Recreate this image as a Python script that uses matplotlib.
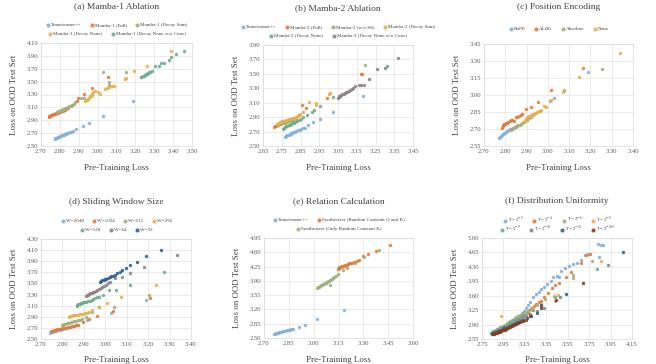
import matplotlib
matplotlib.use("Agg")
import matplotlib.pyplot as plt
import matplotlib.ticker as mticker
import numpy as np

plt.rcParams["font.family"] = ["Liberation Serif", "DejaVu Serif"]
plt.rcParams["mathtext.fontset"] = "stix"

FIG_SIZE = (6.56, 3.64)
FIG_DPI = 100

# colours, office-like palette
BLUE = "#86B0DA"
ORANGE = "#E47B3A"
OLIVE = "#A2AF7E"
GOLD = "#E6B04A"
TEAL = "#6EAB8F"
GRAY = "#8E8484"
NAVY = "#2F5F94"
BROWN = "#8B3A17"

# ---- (a) Mamba-1 Ablation ----
a_transformer = [(2.772, 2.612), (2.776, 2.618), (2.780, 2.624), (2.784, 2.630), (2.788, 2.636),
                 (2.792, 2.641), (2.796, 2.646), (2.800, 2.652), (2.805, 2.658), (2.810, 2.664),
                 (2.815, 2.670), (2.820, 2.676), (2.826, 2.683), (2.832, 2.690), (2.838, 2.697),
                 (2.845, 2.704), (2.852, 2.711), (2.861, 2.720), (2.872, 2.735), (2.888, 2.763),
                 (2.920, 2.810), (2.954, 2.854), (3.028, 2.966), (3.187, 3.197)]
a_full = [(2.741, 2.950), (2.745, 2.960), (2.750, 2.970), (2.755, 2.978), (2.760, 2.985),
          (2.765, 2.992), (2.770, 2.998), (2.776, 3.004), (2.782, 3.010), (2.788, 3.016),
          (2.795, 3.022), (2.802, 3.030), (2.810, 3.040), (2.818, 3.050), (2.826, 3.060),
          (2.835, 3.075), (2.843, 3.095), (2.865, 3.138), (2.892, 3.197), (2.894, 3.251),
          (2.926, 3.304), (2.972, 3.400), (3.053, 3.572)]
a_decay_sum = [(2.786, 3.030), (2.792, 3.040), (2.798, 3.048), (2.804, 3.056), (2.810, 3.064),
               (2.816, 3.072), (2.822, 3.080), (2.828, 3.088), (2.835, 3.097), (2.842, 3.106),
               (2.850, 3.116), (2.858, 3.128), (2.866, 3.142), (2.874, 3.160), (2.882, 3.176),
               (2.912, 3.245), (2.930, 3.250), (3.028, 3.653), (3.058, 3.500), (3.062, 3.444),
               (3.150, 3.647)]
a_decay_none = [(2.933, 3.197), (2.942, 3.213), (2.951, 3.229), (2.956, 3.250), (2.960, 3.272),
                (2.965, 3.282), (2.969, 3.293), (2.972, 3.309), (2.978, 3.336), (2.987, 3.352),
                (3.000, 3.336), (3.010, 3.315), (3.040, 3.390), (3.049, 3.395), (3.062, 3.420),
                (3.076, 3.433), (3.087, 3.430), (3.144, 3.535), (3.152, 3.550), (3.193, 3.658),
                (3.261, 3.739), (3.388, 3.977)]
a_none_noconv = [(3.228, 3.565), (3.232, 3.572), (3.238, 3.582), (3.244, 3.594), (3.250, 3.606),
                 (3.256, 3.616), (3.262, 3.626), (3.268, 3.636), (3.274, 3.646), (3.280, 3.656),
                 (3.288, 3.668), (3.305, 3.737), (3.326, 3.737), (3.337, 3.796), (3.350, 3.796),
                 (3.376, 3.840), (3.390, 3.880), (3.417, 3.924), (3.455, 3.977)]

# ---- (b) Mamba-2 Ablation ----
b_transformer = [(2.766, 2.626), (2.770, 2.632), (2.775, 2.640), (2.780, 2.648), (2.786, 2.656),
                 (2.792, 2.664), (2.798, 2.672), (2.805, 2.680), (2.812, 2.688), (2.820, 2.697),
                 (2.828, 2.706), (2.836, 2.716), (2.845, 2.726), (2.855, 2.736), (2.864, 2.744),
                 (2.873, 2.751), (2.888, 2.788), (2.918, 2.826), (2.954, 2.872), (3.025, 2.974),
                 (3.182, 3.198)]
b_full = [(2.709, 2.762), (2.714, 2.772), (2.720, 2.782), (2.726, 2.790), (2.732, 2.798),
          (2.738, 2.805), (2.745, 2.812), (2.752, 2.820), (2.760, 2.828), (2.768, 2.836),
          (2.776, 2.845), (2.785, 2.855), (2.795, 2.866), (2.805, 2.878), (2.815, 2.890),
          (2.827, 2.905), (2.840, 2.930), (2.860, 3.070), (2.877, 3.020), (2.989, 3.160),
          (3.171, 3.500), (3.180, 3.500)]
b_no_ss = [(2.730, 2.792), (2.738, 2.800), (2.746, 2.808), (2.755, 2.815), (2.765, 2.824),
           (2.776, 2.834), (2.788, 2.844), (2.800, 2.855), (2.812, 2.866), (2.825, 2.878),
           (3.195, 3.616)]
b_decay_sum = [(2.722, 2.800), (2.728, 2.810), (2.734, 2.818), (2.740, 2.826), (2.746, 2.833),
               (2.752, 2.840), (2.758, 2.846), (2.765, 2.852), (2.772, 2.858), (2.780, 2.864),
               (2.788, 2.870), (2.796, 2.877), (2.805, 2.885), (2.814, 2.894), (2.824, 2.904),
               (2.835, 2.920), (2.848, 2.950), (2.864, 2.975), (2.896, 3.114), (2.930, 3.100),
               (2.932, 3.070), (3.003, 3.225), (3.010, 3.232)]
b_decay_none = [(2.757, 2.742), (2.762, 2.752), (2.768, 2.762), (2.774, 2.772), (2.780, 2.780),
                (2.786, 2.788), (2.792, 2.796), (2.799, 2.804), (2.806, 2.812), (2.813, 2.820),
                (2.821, 2.830), (2.830, 2.842), (2.840, 2.858), (2.850, 2.875), (2.864, 2.905),
                (2.882, 2.930), (2.909, 2.974), (2.920, 3.000), (2.954, 3.053), (3.025, 3.184),
                (3.311, 3.611)]
b_none_noconv = [(3.050, 3.170), (3.054, 3.180), (3.058, 3.190), (3.063, 3.198), (3.068, 3.206),
                 (3.074, 3.214), (3.080, 3.222), (3.086, 3.232), (3.092, 3.242), (3.100, 3.252),
                 (3.108, 3.262), (3.116, 3.274), (3.124, 3.290), (3.132, 3.305), (3.141, 3.333),
                 (3.160, 3.340), (3.175, 3.345), (3.186, 3.347), (3.216, 3.430), (3.257, 3.565),
                 (3.302, 3.588), (3.368, 3.719)]

# ---- (c) Position Encoding ----
c_rope = [(2.770, 2.622), (2.774, 2.630), (2.778, 2.638), (2.783, 2.646), (2.788, 2.654),
          (2.793, 2.662), (2.798, 2.669), (2.804, 2.676), (2.810, 2.683), (2.816, 2.690),
          (2.822, 2.697), (2.829, 2.704), (2.836, 2.712), (2.844, 2.720), (2.852, 2.728),
          (3.027, 2.970), (3.187, 3.200)]
c_alibi = [(2.784, 2.712), (2.788, 2.724), (2.791, 2.734), (2.795, 2.742), (2.800, 2.748),
           (2.805, 2.753), (2.810, 2.756), (2.815, 2.762), (2.820, 2.768), (2.826, 2.780),
           (2.832, 2.778), (2.840, 2.775), (2.848, 2.807), (2.856, 2.804), (2.864, 2.815),
           (2.872, 2.822), (2.880, 2.830), (2.895, 2.875), (2.919, 2.890), (2.953, 2.940),
           (3.013, 3.044), (3.164, 3.236)]
c_absolute = [(2.828, 2.690), (2.833, 2.698), (2.838, 2.706), (2.843, 2.713), (2.849, 2.720),
              (2.855, 2.726), (2.861, 2.732), (2.867, 2.738), (2.873, 2.745), (2.879, 2.752),
              (2.886, 2.760), (2.893, 2.770), (2.900, 2.780), (2.910, 2.795), (2.920, 2.810),
              (2.930, 2.825), (2.945, 2.845), (2.961, 2.861), (3.008, 2.950), (3.078, 3.044),
              (3.253, 3.233)]
c_none = [(2.888, 2.762), (2.892, 2.775), (2.896, 2.788), (2.900, 2.798), (2.904, 2.806),
          (2.910, 2.812), (2.916, 2.818), (2.922, 2.824), (2.928, 2.830), (2.935, 2.836),
          (2.942, 2.842), (2.950, 2.850), (2.958, 2.860), (2.966, 2.872), (2.981, 2.902),
          (2.993, 2.890), (3.016, 2.955), (3.070, 3.029), (3.145, 3.157), (3.341, 3.370)]

# ---- (d) Sliding Window Size ----
d_w2048 = [(2.740, 2.615), (2.748, 2.624), (2.756, 2.633), (2.764, 2.641), (2.772, 2.649),
           (2.780, 2.657), (2.788, 2.665), (2.796, 2.673), (2.805, 2.682), (2.814, 2.691),
           (2.823, 2.700), (2.832, 2.710), (2.842, 2.720), (2.852, 2.732), (2.862, 2.745),
           (2.874, 2.760), (2.916, 2.837), (3.027, 2.970), (3.188, 3.200)]
d_w1024 = [(2.745, 2.640), (2.752, 2.650), (2.760, 2.658), (2.768, 2.666), (2.776, 2.673),
           (2.784, 2.680), (2.792, 2.687), (2.800, 2.694), (2.808, 2.700), (2.816, 2.706),
           (2.825, 2.713), (2.834, 2.720), (2.843, 2.728), (2.852, 2.736), (2.862, 2.744),
           (2.872, 2.752), (2.898, 2.800), (2.925, 2.855), (2.963, 2.915), (3.037, 3.000),
           (3.208, 3.241)]
d_w512 = [(2.797, 2.745), (2.802, 2.758), (2.808, 2.768), (2.814, 2.776), (2.820, 2.783),
          (2.826, 2.790), (2.833, 2.797), (2.840, 2.804), (2.847, 2.811), (2.855, 2.818),
          (2.863, 2.826), (2.871, 2.836), (2.880, 2.848), (2.890, 2.860), (2.908, 2.900),
          (2.938, 2.985), (2.971, 3.078), (3.041, 3.070), (3.202, 3.300)]
d_w256 = [(2.830, 2.905), (2.836, 2.915), (2.842, 2.920), (2.849, 2.925), (2.856, 2.930),
          (2.864, 2.935), (2.872, 2.940), (2.880, 2.946), (2.888, 2.952), (2.897, 2.958),
          (2.906, 2.965), (2.916, 2.975), (2.926, 2.990), (2.940, 3.024), (2.971, 3.085),
          (3.006, 3.150), (3.075, 3.259), (3.237, 3.464)]
d_w128 = [(2.866, 3.100), (2.870, 3.112), (2.875, 3.124), (2.880, 3.134), (2.886, 3.142),
          (2.892, 3.150), (2.898, 3.158), (2.905, 3.166), (2.912, 3.174), (2.920, 3.183),
          (2.928, 3.193), (2.936, 3.204), (2.944, 3.216), (2.952, 3.230), (2.962, 3.250),
          (2.972, 3.262), (2.990, 3.300), (3.019, 3.390), (3.050, 3.390), (3.117, 3.470),
          (3.274, 3.700)]
d_w64 = [(2.910, 3.270), (2.914, 3.285), (2.919, 3.298), (2.924, 3.310), (2.930, 3.320),
         (2.936, 3.330), (2.942, 3.340), (2.948, 3.350), (2.955, 3.362), (2.962, 3.376),
         (2.970, 3.392), (2.978, 3.410), (2.986, 3.428), (2.995, 3.446), (3.005, 3.470),
         (3.015, 3.500), (3.022, 3.520), (3.045, 3.590), (3.076, 3.615), (3.115, 3.680),
         (3.182, 3.790), (3.333, 4.015)]
d_w32 = [(2.975, 3.520), (2.980, 3.540), (2.986, 3.556), (2.992, 3.568), (2.998, 3.578),
         (3.005, 3.586), (3.012, 3.598), (3.020, 3.612), (3.028, 3.628), (3.036, 3.640),
         (3.046, 3.660), (3.056, 3.680), (3.068, 3.710), (3.080, 3.735), (3.097, 3.770),
         (3.115, 3.830), (3.146, 3.890), (3.188, 4.000), (3.261, 4.100)]

# ---- (e) Relation Calculation ----
e_transformer = [(2.762, 2.598), (2.768, 2.606), (2.774, 2.614), (2.780, 2.622), (2.786, 2.630),
                 (2.792, 2.638), (2.798, 2.646), (2.805, 2.654), (2.812, 2.662), (2.820, 2.670),
                 (2.828, 2.678), (2.836, 2.686), (2.845, 2.694), (2.855, 2.703), (2.866, 2.714),
                 (2.878, 2.730), (2.914, 2.780), (2.948, 2.830), (3.019, 2.955), (3.183, 3.185)]
e_rand_qk = [(3.148, 4.200), (3.152, 4.215), (3.156, 4.228), (3.160, 4.238), (3.165, 4.248),
             (3.170, 4.256), (3.176, 4.264), (3.182, 4.272), (3.188, 4.280), (3.194, 4.288),
             (3.200, 4.296), (3.207, 4.310), (3.214, 4.330), (3.222, 4.340), (3.232, 4.345),
             (3.242, 4.352), (3.252, 4.370), (3.262, 4.395), (3.276, 4.410), (3.296, 4.510),
             (3.330, 4.560), (3.378, 4.630), (3.463, 4.775)]
e_rand_k = [(3.020, 3.730), (3.026, 3.745), (3.032, 3.760), (3.038, 3.774), (3.044, 3.788),
            (3.050, 3.802), (3.056, 3.816), (3.062, 3.830), (3.068, 3.844), (3.074, 3.858),
            (3.080, 3.872), (3.087, 3.888), (3.094, 3.904), (3.101, 3.920), (3.108, 3.940),
            (3.116, 3.962), (3.124, 3.990), (3.132, 4.030), (3.149, 4.080), (3.176, 4.160),
            (3.204, 4.220), (3.251, 4.330), (3.302, 4.480), (3.392, 4.650), (3.100, 3.800)]

# ---- (f) Distribution Uniformity ----
f_t1 = [(2.870, 2.720), (2.880, 2.735), (2.892, 2.752), (2.905, 2.770), (2.918, 2.790),
        (2.932, 2.812), (2.946, 2.836), (2.960, 2.860), (2.975, 2.886), (2.990, 2.912),
        (3.005, 2.940), (3.020, 2.968), (3.036, 2.998), (3.052, 3.030), (3.068, 3.062),
        (3.085, 3.096), (3.102, 3.132), (3.120, 3.170), (3.140, 3.230), (3.160, 3.300),
        (3.180, 3.380), (3.200, 3.450), (3.226, 3.560), (3.250, 3.640), (3.280, 3.700),
        (3.304, 3.770), (3.330, 3.820), (3.360, 3.880), (3.390, 3.960), (3.413, 4.050),
        (3.450, 4.070), (3.470, 4.060), (3.484, 4.200), (3.521, 4.280), (3.560, 4.320),
        (3.600, 4.370), (3.640, 4.400), (3.677, 4.460), (3.708, 4.580), (3.740, 4.610),
        (3.839, 4.530), (3.832, 4.860), (3.864, 4.840), (3.880, 4.820)]
f_t2 = [(2.900, 2.720), (2.915, 2.745), (2.930, 2.770), (2.946, 2.796), (2.962, 2.824),
        (2.978, 2.852), (2.995, 2.882), (3.012, 2.914), (3.030, 2.946), (3.048, 2.980),
        (3.066, 3.014), (3.085, 3.050), (3.105, 3.088), (3.125, 3.126), (3.146, 3.166),
        (3.168, 3.208), (3.190, 3.252), (3.212, 3.296), (3.235, 3.345), (3.258, 3.400),
        (3.280, 3.450), (3.300, 3.480), (3.330, 3.560), (3.366, 3.670), (3.400, 3.780),
        (3.430, 3.850), (3.470, 3.920), (3.537, 4.060), (3.584, 4.180), (3.670, 4.400),
        (3.725, 4.590), (3.755, 4.600)]
f_t3 = [(2.830, 2.700), (2.840, 2.715), (2.852, 2.732), (2.865, 2.750), (2.878, 2.768),
        (2.892, 2.788), (2.906, 2.808), (2.920, 2.830), (2.935, 2.852), (2.950, 2.876),
        (2.966, 2.900), (2.982, 2.926), (2.999, 2.952), (3.016, 2.980), (3.034, 3.010),
        (3.052, 3.040), (3.071, 3.072), (3.090, 3.104), (3.110, 3.138), (3.130, 3.172),
        (3.152, 3.210), (3.180, 3.240), (3.210, 3.300), (3.260, 3.380), (3.335, 3.510),
        (3.428, 3.470), (3.600, 4.040), (3.600, 4.110), (3.775, 4.430)]
f_t4 = [(2.830, 2.690), (2.842, 2.705), (2.855, 2.722), (2.868, 2.738), (2.882, 2.756),
        (2.896, 2.774), (2.911, 2.794), (2.926, 2.814), (2.942, 2.836), (2.958, 2.858),
        (2.975, 2.882), (2.992, 2.906), (3.010, 2.932), (3.028, 2.958), (3.047, 2.986),
        (3.066, 3.014), (3.086, 3.044), (3.106, 3.074), (3.128, 3.108), (3.150, 3.140),
        (3.180, 3.200), (3.220, 3.260), (2.925, 3.100), (3.300, 3.400), (3.420, 3.590),
        (3.456, 3.610), (3.860, 4.430)]
f_t5 = [(2.835, 2.700), (2.848, 2.716), (2.861, 2.732), (2.875, 2.750), (2.889, 2.768),
        (2.904, 2.788), (2.919, 2.808), (2.935, 2.830), (2.951, 2.852), (2.968, 2.876),
        (2.985, 2.900), (3.003, 2.926), (3.021, 2.952), (3.040, 2.980), (3.060, 3.010),
        (3.080, 3.040), (3.101, 3.072), (3.123, 3.106), (3.146, 3.142), (3.180, 3.190),
        (3.230, 3.260), (3.300, 3.350), (3.430, 3.570), (3.828, 4.247)]
f_t6 = [(2.840, 2.690), (2.853, 2.704), (2.866, 2.720), (2.880, 2.736), (2.894, 2.753),
        (2.909, 2.772), (2.924, 2.790), (2.940, 2.810), (2.956, 2.831), (2.973, 2.852),
        (2.990, 2.874), (3.008, 2.898), (3.026, 2.922), (3.045, 2.948), (3.065, 2.975),
        (3.085, 3.002), (3.106, 3.032), (3.128, 3.064), (3.160, 3.110), (3.200, 3.160),
        (3.260, 3.230), (3.330, 3.310), (3.480, 3.570), (3.930, 4.340)]
f_t7 = [(2.845, 2.680), (2.857, 2.692), (2.870, 2.706), (2.884, 2.720), (2.898, 2.735),
        (2.913, 2.751), (2.928, 2.768), (2.944, 2.786), (2.960, 2.805), (2.977, 2.824),
        (2.994, 2.844), (3.012, 2.865), (3.030, 2.887), (3.049, 2.910), (3.069, 2.934),
        (3.090, 2.960), (3.112, 2.988), (3.135, 3.018), (3.170, 3.060), (3.210, 3.110),
        (3.260, 3.190), (3.300, 3.380), (3.530, 3.640), (4.070, 4.650)]
f_t8 = [(2.850, 2.670), (2.862, 2.680), (2.875, 2.692), (2.888, 2.704), (2.902, 2.717),
        (2.916, 2.731), (2.931, 2.746), (2.946, 2.762), (2.962, 2.779), (2.978, 2.797),
        (2.995, 2.816), (3.012, 2.836), (3.030, 2.857), (3.048, 2.879), (3.067, 2.902),
        (3.087, 2.926), (3.108, 2.952), (3.130, 2.980), (3.160, 3.020), (3.200, 3.100),
        (3.300, 3.300), (3.440, 3.490), (3.690, 3.910)]

F_LABELS = [r"T= $2^{-2}$", r"T= $2^{-4}$", r"T= $2^{-6}$", r"T= $2^{-8}$",
            r"T= $2^{-9}$", r"T= $2^{-10}$", r"T= $2^{-12}$", r"T= $2^{-100}$"]

# panel specs: title, series, legend rows, x ticks, y ticks, axes rect (px)
PANELS = [
    ("(a) Mamba-1 Ablation",
     [(a_transformer, "Transformer++", BLUE), (a_full, "Mamba-1 (Full)", ORANGE),
      (a_decay_sum, "Mamba-1 (Decay Sum)", OLIVE), (a_decay_none, "Mamba-1 (Decay None)", GOLD),
      (a_none_noconv, "Mamba-1 (Decay None w/o Conv)", TEAL)],
     [3, 2], (2.70, 3.50, 0.10), (2.50, 4.10, 0.20), (41, 43, 192, 146)),
    ("(b) Mamba-2 Ablation",
     [(b_transformer, "Transformer++", BLUE), (b_full, "Mamba-2 (Full)", ORANGE),
      (b_no_ss, "Mamba-2 (w/o SS)", OLIVE), (b_decay_sum, "Mamba-2 (Decay Sum)", GOLD),
      (b_decay_none, "Mamba-2 (Decay None)", TEAL),
      (b_none_noconv, "Mamba-2 (Decay None w/o Conv)", GRAY)],
     [4, 2], (2.65, 3.45, 0.10), (2.50, 3.90, 0.20), (263, 45, 413, 146)),
    ("(c) Position Encoding",
     [(c_rope, "RoPE", BLUE), (c_alibi, "ALiBi", ORANGE),
      (c_absolute, "Absolute", OLIVE), (c_none, "None", GOLD)],
     [4], (2.70, 3.40, 0.10), (2.55, 3.45, 0.15), (484, 44, 633, 146)),
    ("(d) Sliding Window Size",
     [(d_w2048, "W=2048", BLUE), (d_w1024, "W=1024", ORANGE), (d_w512, "W=512", OLIVE),
      (d_w256, "W=256", GOLD), (d_w128, "W=128", TEAL), (d_w64, "W=64", GRAY),
      (d_w32, "W=32", NAVY)],
     [4, 3], (2.70, 3.40, 0.10), (2.50, 4.30, 0.20), (41, 239, 191, 339)),
    ("(e) Relation Calculation",
     [(e_transformer, "Transformer++", BLUE),
      (e_rand_qk, "Synthesizer (Random Constant Q and K)", ORANGE),
      (e_rand_k, "Synthesizer (Only Random Constant K)", OLIVE)],
     [2, 1], (2.70, 3.60, 0.15), (2.50, 4.95, 0.35), (264, 238, 413, 338)),
    ("(f) Distribution Uniformity",
     [(f_t1, F_LABELS[0], BLUE), (f_t2, F_LABELS[1], ORANGE), (f_t3, F_LABELS[2], OLIVE),
      (f_t4, F_LABELS[3], GOLD), (f_t5, F_LABELS[4], TEAL), (f_t6, F_LABELS[5], GRAY),
      (f_t7, F_LABELS[6], NAVY), (f_t8, F_LABELS[7], BROWN)],
     [4, 4], (2.75, 4.15, 0.20), (2.55, 5.00, 0.35), (482, 238, 632, 339)),
]

W, H = 656, 364
TEXT = "#404040"
TICK = "#595959"
GRID = "#E3E3E3"


def _add_legend_rows(ax, handles, labels, rows, rect):
    # each legend row is centred on its own, like the office-style legends
    x0, y0, x1, y1 = rect
    xc = (x0 + x1) / 2 / W
    idx = 0
    legends = []
    for r, n in enumerate(rows):
        y = y0 - 18 + r * 9 if len(rows) > 1 else y0 - 15
        leg = ax.legend(handles[idx:idx + n], labels[idx:idx + n], ncol=n,
                        loc="center", bbox_to_anchor=(xc, 1 - y / H),
                        bbox_transform=ax.figure.transFigure,
                        frameon=False, fontsize=3.6, handletextpad=0.1,
                        columnspacing=1.6, handlelength=1.0, borderpad=0,
                        markerscale=1.2, labelcolor=TEXT)
        legends.append(leg)
        idx += n
    for leg in legends[:-1]:
        ax.add_artist(leg)


def plot_panel(fig, spec):
    title, series, rows, xt, yt, rect = spec
    x0, y0, x1, y1 = rect
    ax = fig.add_axes([x0 / W, 1 - y1 / H, (x1 - x0) / W, (y1 - y0) / H])

    handles, labels = [], []
    for pts, label, color in series:
        arr = np.array(pts)
        h = ax.scatter(arr[:, 0], arr[:, 1], s=6, color=color, alpha=0.9,
                       linewidths=0, label=label, zorder=3)
        handles.append(h)
        labels.append(label)

    ax.set_xlim(xt[0], xt[1])
    ax.set_ylim(yt[0], yt[1])
    ax.set_xticks(np.arange(xt[0], xt[1] + 1e-6, xt[2]))
    ax.set_yticks(np.arange(yt[0], yt[1] + 1e-6, yt[2]))
    ax.xaxis.set_major_formatter(mticker.FormatStrFormatter("%.2f"))
    ax.yaxis.set_major_formatter(mticker.FormatStrFormatter("%.2f"))
    ax.tick_params(length=0, labelsize=4.8, colors=TICK, pad=2)
    ax.grid(color=GRID, linewidth=0.5, zorder=0)
    ax.set_axisbelow(True)
    for sp in ax.spines.values():
        sp.set_color("#D9D9D9")
        sp.set_linewidth(0.5)

    ax.set_xlabel("Pre-Training Loss", fontsize=6.4, color=TEXT, labelpad=7)
    ax.set_ylabel("Loss on OOD Test Set", fontsize=6.4, color=TEXT, labelpad=6)

    fig.text((x0 + x1) / 2 / W, 1 - (y0 - 37) / H, title, ha="center", va="center",
             fontsize=6.8, color=TEXT)

    _add_legend_rows(ax, handles, labels, rows, rect)


def main():
    fig = plt.figure(figsize=FIG_SIZE, dpi=FIG_DPI)
    fig.patch.set_facecolor("white")
    for spec in PANELS:
        plot_panel(fig, spec)
    fig.savefig("out.png", dpi=FIG_DPI)
    plt.close()


main()
